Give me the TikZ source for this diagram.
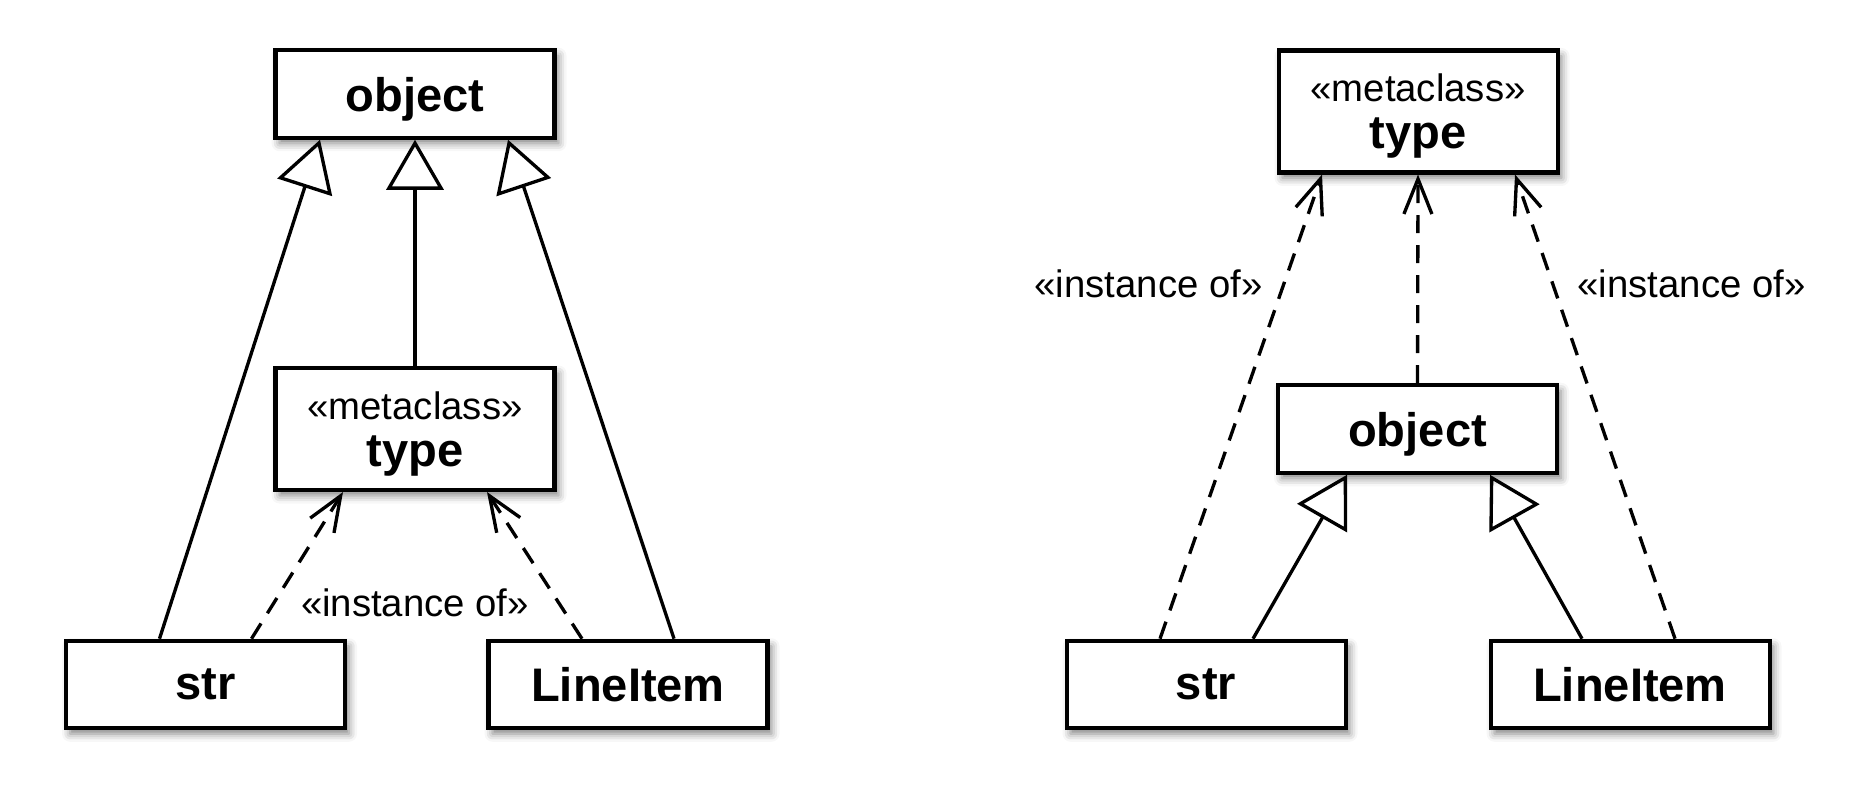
\documentclass[tikz,border=0pt]{standalone}
\usepackage{fontspec}
\setmainfont{Liberation Sans}
\usetikzlibrary{arrows.meta,calc,shadows.blur}

\tikzset{
  cls/.style={draw, line width=1.15pt, fill=white, rectangle, inner sep=0pt,
    text depth=0pt,
    blur shadow={shadow xshift=0.4mm, shadow yshift=-0.55mm,
      shadow blur radius=0.8mm, shadow opacity=50},
    font=\fontsize{13.4}{13.3}\selectfont\bfseries},
  wide/.style={minimum width=27.9mm, minimum height=8.75mm},
  meta/.style={minimum width=27.9mm, minimum height=12.2mm, align=center,
    font=\fontsize{13.4}{13.3}\selectfont},
  inherit/.style={line width=0.95pt, -{Triangle[open, length=5mm, width=5.7mm, line width=0.95pt]}},
  instof/.style={line width=0.95pt, dash pattern=on 1.8mm off 1.2mm,
    -{Straight Barb[length=3.5mm, width=2.8mm, line width=0.95pt]}},
  lbl/.style={font=\fontsize{10.9}{13}\selectfont}
}

\begin{document}
\begin{tikzpicture}[x=0.1mm, y=-0.1mm]
  \useasboundingbox (0,0) rectangle (1870,800);

  % ---- object is the root class, type derives from it ----
  \node[cls, wide] (objL) at (415,94) {object};
  \node[cls, meta] (typeL) at (415,429)
    {{\fontsize{10.9}{13.3}\selectfont «metaclass»}\\{\bfseries type}};
  \node[cls, wide] (strL) at (205.5,684.5) {str};
  \node[cls, wide] (liL) at (628,684.5) {LineItem};

  \draw[inherit] ($(strL.north)+(-46,0)$) -- ($(objL.south)+(-95,0)$);
  \draw[inherit] (typeL.north) -- (objL.south);
  \draw[inherit] ($(liL.north)+(46,0)$) -- ($(objL.south)+(93,0)$);
  \draw[instof] ($(strL.north)+(46,0)$) -- ($(typeL.south)+(-72,0)$);
  \draw[instof] ($(liL.north)+(-46,0)$) -- ($(typeL.south)+(72,0)$);
  \node[lbl] (instL) at (415,603) {«instance of»};

  % ---- every class is an instance of type ----
  \node[cls, meta] (typeR) at (1418,111.5)
    {{\fontsize{10.9}{13.3}\selectfont «metaclass»}\\{\bfseries type}};
  \node[cls, wide] (objR) at (1417.5,429) {object};
  \node[cls, wide] (strR) at (1206,684.5) {str};
  \node[cls, wide] (liR) at (1630,684.5) {LineItem};

  \draw[instof] (objR.north) -- (typeR.south);
  \draw[instof] ($(strR.north)+(-46,0)$) -- ($(typeR.south)+(-96,0)$);
  \draw[instof] ($(liR.north)+(45,0)$) -- ($(typeR.south)+(97,0)$);
  \draw[inherit] ($(strR.north)+(47,0)$) -- ($(objR.south)+(-70.5,0)$);
  \draw[inherit] ($(liR.north)+(-48,0)$) -- ($(objR.south)+(72.5,0)$);
  \node[lbl] (instR1) at (1148.5,284) {«instance of»};
  \node[lbl] (instR2) at (1691.5,284) {«instance of»};
\end{tikzpicture}
\end{document}
